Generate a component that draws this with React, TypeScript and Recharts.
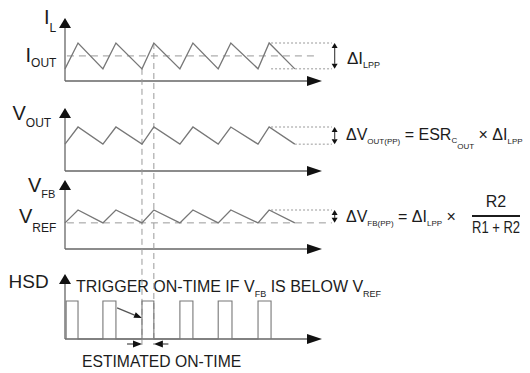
import { ComposedChart, Line, XAxis, YAxis, ReferenceLine } from 'recharts';

// time in switching periods (valley -> peak -> valley ...)
const rampTime = [0, 0.34, 0.99, 1.33, 2.01, 2.32, 3.0, 3.34, 4.0, 4.33, 5.04, 5.33, 6.0];
// normalised levels, 0 = panel axis, 1 = ripple peak
const inductorCurrent = [0.32, 1, 0.32, 1, 0.32, 1, 0.32, 1, 0.32, 1, 0.32, 1, 0.32];
const outputVoltage = [0.61, 1, 0.61, 1, 0.61, 1, 0.61, 1, 0.61, 1, 0.61, 1, 0.61];
const feedbackVoltage = [0.67, 1, 0.67, 1, 0.67, 1, 0.67, 1, 0.67, 1, 0.67, 1, 0.67];
const loadCurrent = 0.66; // I_OUT
const referenceVoltage = 0.67; // V_REF

// high-side driver pulses
const hsdTime = [0.03, 0.03, 0.34, 0.34, 0.99, 0.99, 1.33, 1.33, 2.01, 2.01, 2.32, 2.32, 3.0, 3.0, 3.34, 3.34, 4.0, 4.0, 4.36, 4.36, 5.04, 5.04, 5.38, 5.38];
const hsdLevel = [0, 1, 1, 0, 0, 1, 1, 0, 0, 1, 1, 0, 0, 1, 1, 0, 0, 1, 1, 0, 0, 1, 1, 0];

const onTimeStart = 2.01;
const onTimeEnd = 2.32;

// layout
const W = 530;
const H = 373;
const ORIGIN_PX = 65;
const PERIOD_PX = 38.3;
const AXIS_END = 6.71;
const GUIDE_END = 6.97;
const DELTA_X = 7.04;
const FONT = '"Liberation Sans", Arial, Helvetica, sans-serif';
const INK = '#1c1c1c';
const WAVE = '#777';
const AXIS = '#666';

type Panel = { id: string; basePx: number; pxPerUnit: number; tipPx: number };
const IL: Panel = { id: 'il', basePx: 81, pxPerUnit: 38, tipPx: 18 };
const VOUT: Panel = { id: 'vout', basePx: 171, pxPerUnit: 44, tipPx: 108 };
const VFB: Panel = { id: 'vfb', basePx: 249, pxPerUnit: 39, tipPx: 180 };
const HSD: Panel = { id: 'hsd', basePx: 339, pxPerUnit: 38, tipPx: 274 };
const panels = [IL, VOUT, VFB, HSD];

const domainOf = (p: Panel) => [-(H - p.basePx) / p.pxPerUnit, p.basePx / p.pxPerUnit];
const unitsAt = (p: Panel, px: number) => (p.basePx - px) / p.pxPerUnit;

const toRows = (t: number[], v: number[]) => t.map((x, i) => ({ t: x, v: v[i] }));

// line + filled arrowhead(s) for ReferenceLine segments
const arrow = (head: number, half: number, both = false, color = AXIS) => (p: any) => {
  const { x1, y1, x2, y2 } = p;
  const len = Math.hypot(x2 - x1, y2 - y1) || 1;
  const ux = (x2 - x1) / len;
  const uy = (y2 - y1) / len;
  const tri = (tx: number, ty: number, dx: number, dy: number) => {
    const bx = tx - dx * head;
    const by = ty - dy * head;
    return `${tx},${ty} ${bx - dy * half},${by + dx * half} ${bx + dy * half},${by - dx * half}`;
  };
  return (
    <g>
      <line
        x1={both ? x1 + ux * head : x1}
        y1={both ? y1 + uy * head : y1}
        x2={x2 - ux * head}
        y2={y2 - uy * head}
        stroke={color}
        strokeWidth={1.3}
      />
      <polygon points={tri(x2, y2, ux, uy)} fill="#111" />
      {both && <polygon points={tri(x1, y1, -ux, -uy)} fill="#111" />}
    </g>
  );
};

const axisUp = arrow(10, 6);
const axisRight = arrow(15, 5);
const ripple = arrow(5, 3, true, '#555');
const pointer = arrow(9, 3.5, false, '#555');

export default function App() {
  const last = rampTime.length - 1;
  return (
    <div style={{ position: 'absolute', left: 0, top: 0, width: W, height: H, background: '#fff' }}>
      <ComposedChart width={W} height={H} margin={{ top: 0, right: 0, bottom: 0, left: 0 }}>
        <XAxis
          dataKey="t"
          type="number"
          hide
          allowDataOverflow
          domain={[-ORIGIN_PX / PERIOD_PX, (W - ORIGIN_PX) / PERIOD_PX]}
        />
        {panels.map((p) => (
          <YAxis key={p.id} yAxisId={p.id} type="number" hide allowDataOverflow domain={domainOf(p)} />
        ))}

        {/* axes */}
        {panels.map((p) => (
          <ReferenceLine
            key={p.id + '-y'}
            yAxisId={p.id}
            segment={[{ x: 0, y: 0 }, { x: 0, y: unitsAt(p, p.tipPx) }]}
            shape={axisUp}
          />
        ))}
        {panels.map((p) => (
          <ReferenceLine
            key={p.id + '-x'}
            yAxisId={p.id}
            segment={[{ x: 0, y: 0 }, { x: AXIS_END, y: 0 }]}
            shape={axisRight}
          />
        ))}

        {/* averages and ripple guides */}
        <ReferenceLine yAxisId="il" segment={[{ x: 0.05, y: loadCurrent }, { x: 6.6, y: loadCurrent }]} stroke="#999" strokeDasharray="7 5" />
        <ReferenceLine yAxisId="vfb" segment={[{ x: 0.05, y: referenceVoltage }, { x: GUIDE_END, y: referenceVoltage }]} stroke="#999" strokeDasharray="7 5" />
        <ReferenceLine yAxisId="il" segment={[{ x: rampTime[last - 1] + 0.05, y: inductorCurrent[last - 1] }, { x: GUIDE_END, y: inductorCurrent[last - 1] }]} stroke="#999" strokeDasharray="2 2" />
        <ReferenceLine yAxisId="il" segment={[{ x: rampTime[last - 1] + 0.05, y: inductorCurrent[last] }, { x: GUIDE_END, y: inductorCurrent[last] }]} stroke="#999" strokeDasharray="2 2" />
        <ReferenceLine yAxisId="vout" segment={[{ x: rampTime[last - 1] + 0.05, y: outputVoltage[last - 1] }, { x: GUIDE_END, y: outputVoltage[last - 1] }]} stroke="#999" strokeDasharray="2 2" />
        <ReferenceLine yAxisId="vout" segment={[{ x: rampTime[last], y: outputVoltage[last] }, { x: GUIDE_END, y: outputVoltage[last] }]} stroke="#999" strokeDasharray="2 2" />
        <ReferenceLine yAxisId="vfb" segment={[{ x: rampTime[last - 1] + 0.05, y: feedbackVoltage[last - 1] }, { x: GUIDE_END, y: feedbackVoltage[last - 1] }]} stroke="#999" strokeDasharray="2 2" />

        {/* ripple size arrows */}
        <ReferenceLine yAxisId="il" segment={[{ x: DELTA_X, y: inductorCurrent[last] }, { x: DELTA_X, y: inductorCurrent[last - 1] }]} shape={ripple} />
        <ReferenceLine yAxisId="vout" segment={[{ x: DELTA_X, y: outputVoltage[last] }, { x: DELTA_X, y: outputVoltage[last - 1] }]} shape={ripple} />
        <ReferenceLine yAxisId="vfb" segment={[{ x: DELTA_X, y: feedbackVoltage[last] }, { x: DELTA_X, y: feedbackVoltage[last - 1] }]} shape={ripple} />

        {/* on-time markers through all panels */}
        <ReferenceLine yAxisId="il" segment={[{ x: onTimeStart, y: inductorCurrent[4] }, { x: onTimeStart, y: unitsAt(IL, 345) }]} stroke="#999" strokeDasharray="6 4" />
        <ReferenceLine yAxisId="il" segment={[{ x: onTimeEnd, y: inductorCurrent[5] }, { x: onTimeEnd, y: unitsAt(IL, 345) }]} stroke="#999" strokeDasharray="6 4" />
        <ReferenceLine yAxisId="hsd" segment={[{ x: 1.62, y: unitsAt(HSD, 344) }, { x: onTimeStart, y: unitsAt(HSD, 344) }]} shape={pointer} />
        <ReferenceLine yAxisId="hsd" segment={[{ x: 2.7, y: unitsAt(HSD, 344) }, { x: onTimeEnd, y: unitsAt(HSD, 344) }]} shape={pointer} />
        <ReferenceLine yAxisId="hsd" segment={[{ x: 1.36, y: 0.82 }, { x: onTimeStart, y: 0.55 }]} shape={arrow(8, 3, false, '#555')} />

        <Line data={toRows(rampTime, inductorCurrent)} dataKey="v" yAxisId="il" type="linear" stroke={WAVE} strokeWidth={1.3} dot={false} activeDot={false} isAnimationActive={false} />
        <Line data={toRows(rampTime, outputVoltage)} dataKey="v" yAxisId="vout" type="linear" stroke={WAVE} strokeWidth={1.3} dot={false} activeDot={false} isAnimationActive={false} />
        <Line data={toRows(rampTime, feedbackVoltage)} dataKey="v" yAxisId="vfb" type="linear" stroke={WAVE} strokeWidth={1.3} dot={false} activeDot={false} isAnimationActive={false} />
        <Line data={toRows(hsdTime, hsdLevel)} dataKey="v" yAxisId="hsd" type="linear" stroke={WAVE} strokeWidth={1.1} dot={false} activeDot={false} isAnimationActive={false} />

        {/* labels */}
        <g fontFamily={FONT} fill={INK} style={{ whiteSpace: 'pre' }}>
          <text x={44} y={24} fontSize={20}>I<tspan fontSize={12} dy={8}>L</tspan></text>
          <text x={25.5} y={62} fontSize={20}>I<tspan fontSize={12} dy={5}>OUT</tspan></text>
          <text x={12.5} y={120} fontSize={20}>V<tspan fontSize={12} dy={7}>OUT</tspan></text>
          <text x={28} y={192} fontSize={20}>V<tspan fontSize={11} dy={6}>FB</tspan></text>
          <text x={19} y={223} fontSize={20}>V<tspan fontSize={12} dy={9}>REF</tspan></text>
          <text x={8.5} y={288} fontSize={19}>HSD</text>

          <text x={76} y={292} fontSize={16}>
            TRIGGER ON-TIME IF V<tspan fontSize={9} dy={5}>FB</tspan>
            <tspan dy={-5}> IS BELOW V</tspan>
            <tspan fontSize={9} dy={5}>REF</tspan>
          </text>
          <text x={82} y={367} fontSize={15.7}>ESTIMATED ON-TIME</text>

          <text x={347} y={64} fontSize={17}>ΔI<tspan fontSize={9} dy={4}>LPP</tspan></text>

          <text x={346} y={140} fontSize={16}>
            ΔV<tspan fontSize={8} dy={4}>OUT(PP)</tspan>
            <tspan dy={-4}> = ESR</tspan>
            <tspan fontSize={8} dy={3}>C</tspan>
            <tspan fontSize={8} dy={6}>OUT</tspan>
            <tspan dy={-9}> × ΔI</tspan>
            <tspan fontSize={8} dy={4}>LPP</tspan>
          </text>

          <text x={346} y={222} fontSize={16}>
            ΔV<tspan fontSize={8} dy={4}>FB(PP)</tspan>
            <tspan dy={-4}> = ΔI</tspan>
            <tspan fontSize={8} dy={4}>LPP</tspan>
            <tspan dy={-4}> ×</tspan>
          </text>
          <text x={496} y={207} fontSize={16} textAnchor="middle">R2</text>
          <line x1={472} y1={216} x2={520} y2={216} stroke={INK} strokeWidth={2} />
          <text x={472} y={233} fontSize={16} textLength={48} lengthAdjust="spacingAndGlyphs">R1 + R2</text>
        </g>
      </ComposedChart>
    </div>
  );
}
